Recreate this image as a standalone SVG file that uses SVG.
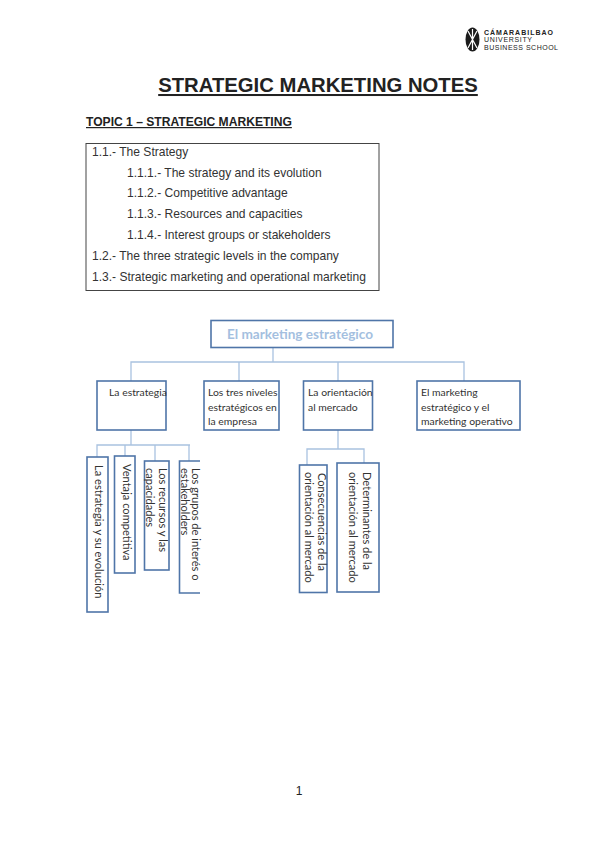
<svg xmlns="http://www.w3.org/2000/svg" width="599" height="848" viewBox="0 0 599 848">
<style>
text{font-family:"Liberation Sans",Arial,sans-serif;fill:#222}
.toc{font-size:12.05px;fill:#333}
.b{fill:#fff;stroke:#4f75a8;stroke-width:1.6}
.c{fill:none;stroke:#a9c2e0;stroke-width:1.3}
.l{font-family:Lato,"Open Sans",sans-serif;font-size:10.4px;fill:#333}
.v{font-family:Lato,"Open Sans",sans-serif;font-size:11.1px;fill:#333}
</style>
<rect width="599" height="848" fill="#fff"/>
<g id="logo">
<ellipse cx="472.500" cy="39.500" rx="7" ry="12" fill="#1c1c1c"/>
<path d="M468 31L477 48M477 31L468 48M472.500 29V50" stroke="#fff" stroke-width="1.2" fill="none"/>
<text x="484" y="34.500" font-size="7" font-weight="bold" textLength="69">CÁMARABILBAO</text>
<text x="484" y="42" font-size="7" fill="#555" textLength="48">UNIVERSITY</text>
<text x="484" y="49.500" font-size="7" fill="#777" textLength="74">BUSINESS SCHOOL</text>
</g>
<g id="heading">
<text x="318" y="92" font-size="20.300" font-weight="bold" text-anchor="middle" text-decoration="underline" fill="#111">STRATEGIC MARKETING NOTES</text>
<text x="86" y="126" font-size="12.100" font-weight="bold" text-decoration="underline" fill="#111">TOPIC 1 – STRATEGIC MARKETING</text>
</g>
<g id="contents">
<rect x="86" y="143.500" width="293" height="147" fill="#fff" stroke="#444" stroke-width="1"/>
<text class="toc" x="92" y="156">1.1.- The Strategy</text>
<text class="toc" x="127" y="176.500">1.1.1.- The strategy and its evolution</text>
<text class="toc" x="127" y="197">1.1.2.- Competitive advantage</text>
<text class="toc" x="127" y="218">1.1.3.- Resources and capacities</text>
<text class="toc" x="127" y="239">1.1.4.- Interest groups or stakeholders</text>
<text class="toc" x="92" y="260">1.2.- The three strategic levels in the company</text>
<text class="toc" x="92" y="280.500">1.3.- Strategic marketing and operational marketing</text>
</g>
<g id="connectors">
<path class="c" d="M273 347V362M131 381V362H464V381M239 362V381M338 362V381"/>
<path class="c" d="M131 430V445M97 457V445H190M125 445V456M155 445V461M189 445V461"/>
<path class="c" d="M338 430V449M307 465V449H364V463"/>
</g>
<g id="root"><rect class="b" x="211" y="320.500" width="182" height="27"/>
<text x="227" y="338.500" style="font-family:Lato,sans-serif;font-size:13.600px;font-weight:bold;fill:#a4bfdf">El marketing estratégico</text></g>
<g id="n1"><rect class="b" x="97" y="381" width="69" height="49"/>
<text class="l" x="109" y="396">La estrategia</text></g>
<g id="n2"><rect class="b" x="204" y="381" width="75" height="49"/>
<text class="l" x="208" y="396">Los tres niveles</text><text class="l" x="208" y="410.500">estratégicos en</text><text class="l" x="208" y="425">la empresa</text></g>
<g id="n3"><rect class="b" x="303.500" y="381" width="69" height="49"/>
<text class="l" x="308" y="396">La orientación</text><text class="l" x="308" y="410.500">al mercado</text></g>
<g id="n4"><rect class="b" x="417" y="381" width="103" height="49"/>
<text class="l" x="421" y="396">El marketing</text><text class="l" x="421" y="410.500">estratégico y el</text><text class="l" x="421" y="425">marketing operativo</text></g>
<g id="n5"><rect class="b" x="87" y="457" width="21" height="155"/>
<text class="v" transform="translate(95,465) rotate(90)">La estrategia y su evolución</text></g>
<g id="n6"><rect class="b" x="114.500" y="456" width="20.500" height="117"/>
<text class="v" transform="translate(123,464) rotate(90)">Ventaja competitiva</text></g>
<g id="n7"><rect class="b" x="144.500" y="461" width="24.500" height="109"/>
<text class="v" transform="translate(159,468) rotate(90)">Los recursos y las</text><text class="v" transform="translate(146,468) rotate(90)">capacidades</text></g>
<g id="n8"><path class="b" d="M200 461H179.500V593H200"/>
<text class="v" transform="translate(192,468) rotate(90)">Los grupos de interés o</text><text class="v" transform="translate(180.500,468) rotate(90)">estakeholders</text></g>
<g id="n9"><rect class="b" x="299.500" y="465" width="27.500" height="127.500"/>
<text class="v" transform="translate(318,473) rotate(90)">Consecuencias de la</text><text class="v" transform="translate(305,472) rotate(90)">orientación al mercado</text></g>
<g id="n10"><rect class="b" x="337" y="463" width="42" height="129"/>
<text class="v" transform="translate(363,472) rotate(90)">Determinantes de la</text><text class="v" transform="translate(349,472) rotate(90)">orientación al mercado</text></g>
<text x="299" y="795" font-size="12" text-anchor="middle" fill="#111">1</text>
</svg>
